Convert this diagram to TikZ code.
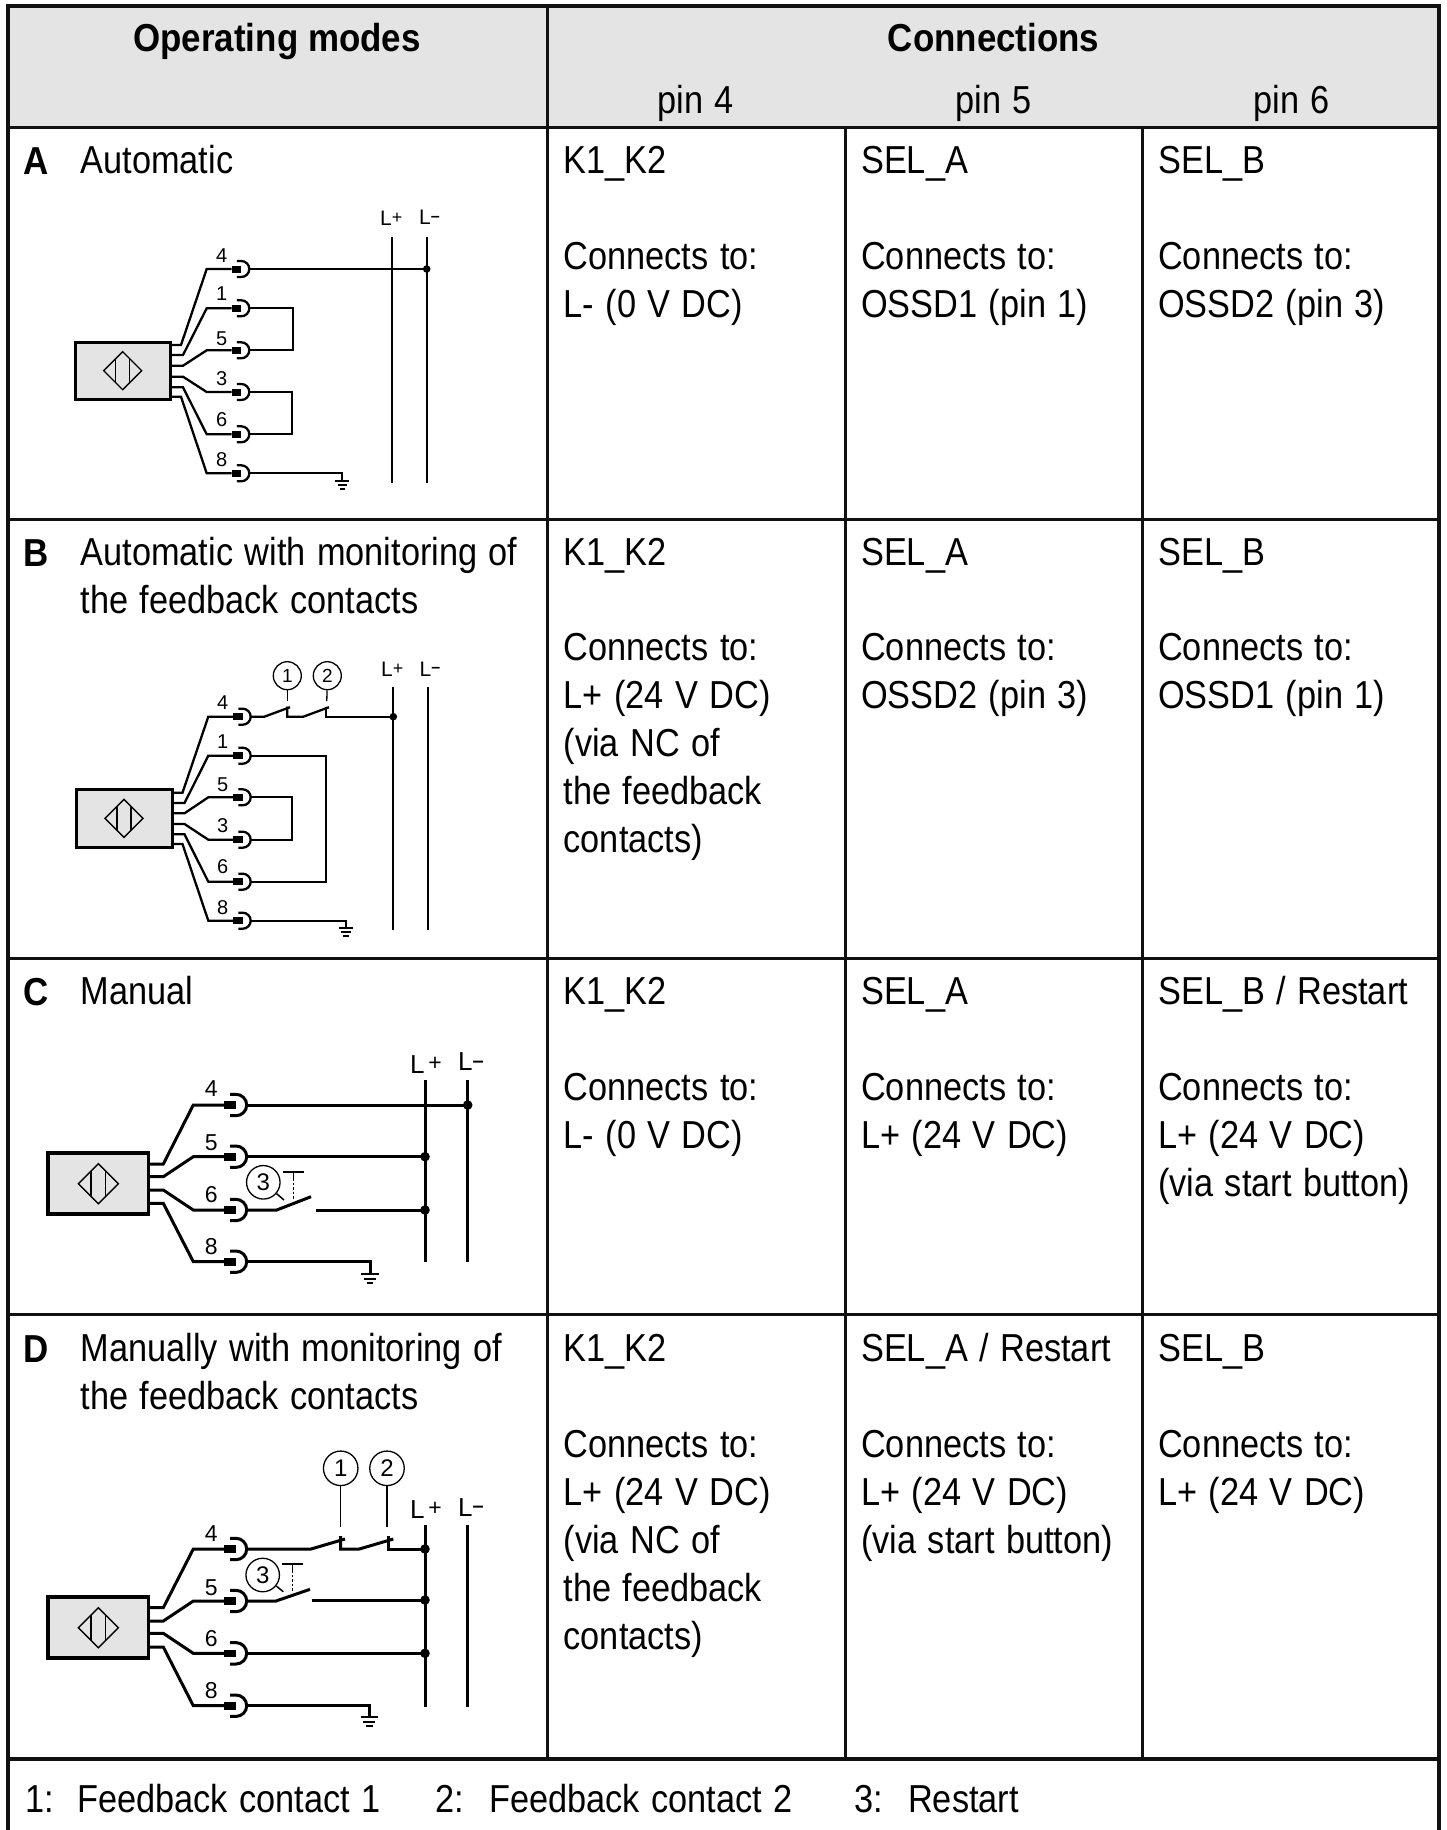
\documentclass[tikz,border=0pt]{standalone}
\usepackage{fontspec}
\setmainfont{Liberation Sans}
\newfontfamily\narrowf[FakeStretch=0.88]{Liberation Sans}
\newfontfamily\narrowb[FakeStretch=0.895]{Liberation Sans Bold}
\definecolor{headgray}{HTML}{E4E4E4}
\definecolor{linek}{HTML}{111111}
\newcommand\cellfont{\narrowf\fontsize{39}{48}\selectfont\spaceskip=11.4pt\relax}
\newcommand\boldfont{\narrowb\fontsize{39}{48}\selectfont}
\def\wlw{2.3pt}\def\sockL{0}\def\sockC{0}\def\sockR{8}\def\sockH{3.2}\def\bendX{0}\def\boxR{0}
% pin: name, stub y, pin y, stub end x
\newcommand\pinwire[4]{%
  \coordinate (#1s) at (\boxR,#2);
  \coordinate (#1t) at (#4,#2);
  \coordinate (#1b) at (\bendX,#3);
  \coordinate (#1i) at (\sockL,#3);
  \coordinate (#1o) at ({\sockC+\sockR},#3);
  \draw[line width=\wlw,miter limit=3] (#1s) -- (#1t) -- (#1b) -- (#1i);
  \fill (\sockL,{#3-\sockH}) rectangle (\sockC,{#3+\sockH});
  \draw[line width=\wlw] ({\sockC-0.55*\sockR},{#3-\sockR}) -- (\sockC,{#3-\sockR})
     .. controls ({\sockC+0.55*\sockR},{#3-\sockR}) and ({\sockC+\sockR},{#3-0.55*\sockR}) .. ({\sockC+\sockR},#3)
     .. controls ({\sockC+\sockR},{#3+0.55*\sockR}) and ({\sockC+0.55*\sockR},{#3+\sockR}) .. (\sockC,{#3+\sockR})
     -- ({\sockC-0.55*\sockR},{#3+\sockR});
}
% diamond symbol: cx cy half
\newcommand\sensormark[3]{%
  \draw[line width=1.4pt] ({#1-#3},#2) -- (#1,{#2-#3}) -- ({#1+#3},#2) -- (#1,{#2+#3}) -- cycle;
  \draw[line width=1.4pt] ({#1-0.37*#3},{#2-0.63*#3}) -- ({#1-0.37*#3},{#2+0.63*#3});
  \draw[line width=1.4pt] ({#1+0.37*#3},{#2-0.63*#3}) -- ({#1+0.37*#3},{#2+0.63*#3});
}
\newcommand\groundsym[5]{% x y0 y-step halfwidth lw
  \draw[line width=#5] ({#1-#4},#2) -- ({#1+#4},#2);
  \draw[line width=#5] ({#1-0.68*#4},{#2+#3}) -- ({#1+0.68*#4},{#2+#3});
  \draw[line width=#5] ({#1-0.38*#4},{#2+2*#3}) -- ({#1+0.38*#4},{#2+2*#3});
}
\tikzset{
  thickgrid/.style={line width=4pt,linek},
  thingrid/.style={line width=2.4pt,linek},
  celltext/.style={font=\cellfont,anchor=base west,inner sep=0pt,align=flush left,text width=#1,yshift=1pt},
  celltext/.default=280pt,
  headtext/.style={font=\boldfont,anchor=base,inner sep=0pt},
  pintext/.style={font=\cellfont,anchor=base,inner sep=0pt},
  sensorbox/.style={draw,fill=headgray,inner sep=0pt,outer sep=0pt,anchor=north west},
  dg/.style={inner sep=0pt,anchor=base,font=\fontsize{#1}{#1}\selectfont},
  railtext/.style={inner sep=0pt,anchor=base west,font=\fontsize{#1}{#1}\selectfont},
  ring/.style={draw,circle,inner sep=0pt,line width=1.3pt,font=\fontsize{#1}{#1}\selectfont},
}
\begin{document}
\begin{tikzpicture}[x=1pt,y=-1pt]
\useasboundingbox (0,0) rectangle (1447,1830);
\fill[white] (0,0) rectangle (1447,1830);
% ---------- table ----------
\fill[headgray] (8,6) rectangle (1439,127.5);
\draw[thingrid] (8,127.5) -- (1439,127.5);
\draw[thingrid] (8,519.5) -- (1439,519.5);
\draw[thingrid] (8,958.5) -- (1439,958.5);
\draw[thingrid] (8,1314.5) -- (1439,1314.5);
\draw[thingrid] (547.5,6) -- (547.5,1759);
\draw[thingrid] (845.5,127) -- (845.5,1759);
\draw[thingrid] (1142.5,127) -- (1142.5,1759);
\draw[thickgrid] (8,1759) -- (1439,1759);
\draw[thickgrid] (8,1830) -- (8,6) -- (1439,6) -- (1439,1830);
% header
\node[headtext] (hmodes) at (277,52) {Operating modes};
\node[headtext] (hconn) at (993.5,52) {Connections};
\node[pintext] (hp4) at (695.5,114) {pin 4};
\node[pintext] (hp5) at (993.5,114) {pin 5};
\node[pintext] (hp6) at (1291.5,114) {pin 6};
% row A
\node[headtext,anchor=base west] (la) at (23,175) {A};
\node[celltext=440pt] (ta) at (80.5,175) {Automatic};
\node[celltext] (a1) at (563.5,175) {K1\_K2};
\node[celltext] (a2) at (861,175) {SEL\_A};
\node[celltext] (a3) at (1158,175) {SEL\_B};
\node[celltext] (a1b) at (563.5,270.5) {Connects to:\\L- (0 V DC)};
\node[celltext] (a2b) at (861,270.5) {Connects to:\\OSSD1 (pin 1)};
\node[celltext] (a3b) at (1158,270.5) {Connects to:\\OSSD2 (pin 3)};
% row B
\node[headtext,anchor=base west] (lb) at (23,566) {B};
\node[celltext=460pt] (tb) at (80.5,566) {Automatic with monitoring of\\the feedback contacts};
\node[celltext] (b1) at (563.5,566) {K1\_K2};
\node[celltext] (b2) at (861,566) {SEL\_A};
\node[celltext] (b3) at (1158,566) {SEL\_B};
\node[celltext] (b1b) at (563.5,661.5) {Connects to:\\L+ (24 V DC)\\(via NC of\\the feedback\\contacts)};
\node[celltext] (b2b) at (861,661.5) {Connects to:\\OSSD2 (pin 3)};
\node[celltext] (b3b) at (1158,661.5) {Connects to:\\OSSD1 (pin 1)};
% row C
\node[headtext,anchor=base west] (lc) at (23,1005) {C};
\node[celltext=440pt] (tc) at (80.5,1005) {Manual};
\node[celltext] (c1) at (563.5,1005) {K1\_K2};
\node[celltext] (c2) at (861,1005) {SEL\_A};
\node[celltext] (c3) at (1158,1005) {SEL\_B / Restart};
\node[celltext] (c1b) at (563.5,1101.5) {Connects to:\\L- (0 V DC)};
\node[celltext] (c2b) at (861,1101.5) {Connects to:\\L+ (24 V DC)};
\node[celltext] (c3b) at (1158,1101.5) {Connects to:\\L+ (24 V DC)\\(via start button)};
% row D
\node[headtext,anchor=base west] (ld) at (23,1362) {D};
\node[celltext=460pt] (td) at (80.5,1362) {Manually with monitoring of\\the feedback contacts};
\node[celltext] (d1) at (563.5,1362) {K1\_K2};
\node[celltext] (d2) at (861,1362) {SEL\_A / Restart};
\node[celltext] (d3) at (1158,1362) {SEL\_B};
\node[celltext] (d1b) at (563.5,1458.5) {Connects to:\\L+ (24 V DC)\\(via NC of\\the feedback\\contacts)};
\node[celltext] (d2b) at (861,1458.5) {Connects to:\\L+ (24 V DC)\\(via start button)};
\node[celltext] (d3b) at (1158,1458.5) {Connects to:\\L+ (24 V DC)};
% footer
\node[celltext=50pt] (f1n) at (25.5,1813) {1:};
\node[celltext=340pt] (f1t) at (77,1813) {Feedback contact 1};
\node[celltext=50pt] (f2n) at (435,1813) {2:};
\node[celltext=340pt] (f2t) at (489,1813) {Feedback contact 2};
\node[celltext=50pt] (f3n) at (854,1813) {3:};
\node[celltext=200pt] (f3t) at (908,1813) {Restart};

% ---------- diagram A ----------
\node[sensorbox,line width=3pt,minimum width=94.7pt,minimum height=57.4pt] (abox) at (75.6,342) {};
\sensormark{122.7}{370.7}{19}
\def\wlw{2.3pt}\def\boxR{171}\def\bendX{206.7}\def\sockL{231.7}\def\sockC{241.3}\def\sockR{8}\def\sockH{3.5}
\pinwire{a4}{345}{269}{181}
\pinwire{a1}{355}{308.3}{183}
\pinwire{a5}{365.7}{350.3}{183}
\pinwire{a3}{376.7}{392}{183}
\pinwire{a6}{387.3}{434.3}{183}
\pinwire{a8}{396.7}{473.3}{181}
\foreach \nm/\bb in {4/262.7,1/300,5/345,3/385,6/426.7,8/466.7}{
  \node[dg=20] (adg\nm) at (221.7,\bb) {\nm};
}
\coordinate (alpt) at (392.3,237.3); \coordinate (alpb) at (392.3,483.3);
\coordinate (almt) at (426.7,237.3); \coordinate (almb) at (426.7,483.3);
\draw[line width=2.3pt] (alpt) -- (alpb);
\draw[line width=2.3pt] (almt) -- (almb);
\draw[line width=2.3pt] (a4o) -- (a4o -| almt);
\fill (a4o -| almt) circle (3.8pt);
\draw[line width=2.3pt] (a1o) -- (292.7,308.3) -- (292.7,350.3) -- (a5o);
\draw[line width=2.3pt] (a3o) -- (291.7,392) -- (291.7,434.3) -- (a6o);
\draw[line width=2.3pt] (a8o) -- (342.3,473.3) -- (342.3,481);
\groundsym{342.3}{481}{4}{7}{1.8pt}
\node[railtext=21] (alpl) at (380,225.7) {L\raisebox{2.5pt}{\fontsize{18}{18}\selectfont+}};
\node[railtext=21] (alml) at (419,225) {L\raisebox{3.5pt}{\bfseries\fontsize{16}{16}\selectfont –}};

% ---------- diagram B ----------
\node[sensorbox,line width=3pt,minimum width=95.7pt,minimum height=58pt] (bbox) at (76.3,789.6) {};
\sensormark{124}{818.3}{19}
\def\boxR{172.5}\def\bendX{208.3}\def\sockL{233}\def\sockC{242.7}
\pinwire{b4}{792.7}{716.7}{182.5}
\pinwire{b1}{803}{755.7}{184.5}
\pinwire{b5}{813.3}{797.3}{184.5}
\pinwire{b3}{824}{839.7}{184.5}
\pinwire{b6}{834.3}{881.7}{184.5}
\pinwire{b8}{844}{920.7}{182.5}
\foreach \nm/\bb in {4/709.3,1/748.3,5/791.7,3/832.3,6/873.3,8/914}{
  \node[dg=20] (bdg\nm) at (222.7,\bb) {\nm};
}
\coordinate (blpt) at (393.3,686.7); \coordinate (blpb) at (393.3,930);
\coordinate (blmt) at (427.7,686.7); \coordinate (blmb) at (427.7,930);
\draw[line width=2.3pt] (blpt) -- (blpb);
\draw[line width=2.3pt] (blmt) -- (blmb);
\draw[line width=2.3pt] (b4o) -- (264.3,716.7) -- (290,707.2);
\draw[line width=2.3pt] (287.3,706.5) -- (287.3,716.7) -- (303.3,716.7) -- (329,707.2);
\draw[line width=2.3pt] (326,706.5) -- (326,716.7) -- (b4o -| blpt);
\fill (b4o -| blpt) circle (3.8pt);
\draw[line width=2.3pt] (b5o) -- (292.3,797.3) -- (292.3,839.7) -- (b3o);
\draw[line width=2.3pt] (b1o) -- (326,755.7) -- (326,881.7) -- (b6o);
\draw[line width=2.3pt] (b8o) -- (346,920.7) -- (346,928.3);
\groundsym{346}{928.3}{3.9}{7}{1.8pt}
\node[ring=19,minimum size=28pt] (bc1) at (287.3,675.7) {1};
\node[ring=19,minimum size=28pt] (bc2) at (327.3,675.7) {2};
\coordinate (bc1e) at (287.3,701); \coordinate (bc2e) at (326.8,701);
\draw[line width=1.3pt] (bc1) -- (bc1e);
\draw[line width=1.3pt] (bc2) -- (bc2e);
\node[railtext=21] (blpl) at (381,676.7) {L\raisebox{2.5pt}{\fontsize{18}{18}\selectfont+}};
\node[railtext=21] (blml) at (419.5,676) {L\raisebox{3.5pt}{\bfseries\fontsize{16}{16}\selectfont –}};

% ---------- diagram C ----------
\node[sensorbox,line width=3.8pt,minimum width=100.8pt,minimum height=61pt] (cbox) at (47.6,1153.3) {};
\sensormark{98.3}{1183.7}{20}
\def\wlw{3pt}\def\boxR{150}\def\bendX{193.3}\def\sockL{224.3}\def\sockC{236}\def\sockR{10.7}\def\sockH{3.8}
\pinwire{c4}{1164}{1105}{163.3}
\pinwire{c5}{1176.7}{1156.7}{163.3}
\pinwire{c6}{1190}{1210}{163.3}
\pinwire{c8}{1203.3}{1261.7}{163.3}
\foreach \nm/\bb in {4/1096.7,5/1150,6/1202.7,8/1254.3}{
  \node[dg=23] (cdg\nm) at (211.3,\bb) {\nm};
}
\coordinate (clpt) at (425,1080); \coordinate (clpb) at (425,1261.7);
\coordinate (clmt) at (467.7,1080); \coordinate (clmb) at (467.7,1261.7);
\draw[line width=3pt] (clpt) -- (clpb);
\draw[line width=3pt] (clmt) -- (clmb);
\draw[line width=3pt] (c4o) -- (c4o -| clmt);
\fill (c4o -| clmt) circle (4.8pt);
\draw[line width=3pt] (c5o) -- (c5o -| clpt);
\fill (c5o -| clpt) circle (4.8pt);
\draw[line width=3pt] (c6o) -- (276.7,1210) -- (311,1196.7);
\coordinate (cgap) at (316,1210);
\draw[line width=3pt] (cgap) -- (cgap -| clpt);
\fill (cgap -| clpt) circle (4.8pt);
\node[ring=24,minimum size=33.5pt] (cc3) at (263.3,1182.3) {3};
\coordinate (cc3e) at (284,1200);
\draw[line width=1.5pt] (cc3) -- (cc3e);
\draw[line width=1.7pt] (283.3,1171.7) -- (304,1171.7);
\draw[line width=1.4pt] (293.3,1171.7) -- (293.3,1178);
\draw[line width=1.4pt,dash pattern=on 2.5pt off 2pt] (293.3,1178) -- (293.3,1199);
\draw[line width=3pt] (c8o) -- (370,1261.7) -- (370,1274);
\groundsym{370}{1274}{4.6}{8.7}{2.2pt}
\node[railtext=26] (clpl) at (410,1073.3) {L\raisebox{3pt}{\fontsize{23}{23}\selectfont\,+}};
\node[railtext=26] (clml) at (458,1070.7) {L\raisebox{3.5pt}{\bfseries\fontsize{20}{20}\selectfont –}};

% ---------- diagram D ----------
\node[sensorbox,line width=3.8pt,minimum width=100.8pt,minimum height=61pt] (dbox) at (47.6,1596.6) {};
\sensormark{98.3}{1627.7}{20}
\pinwire{d4}{1607.7}{1549}{163.3}
\pinwire{d5}{1621}{1601}{163.3}
\pinwire{d6}{1633.3}{1653.3}{163.3}
\pinwire{d8}{1647}{1705.7}{163.3}
\foreach \nm/\bb in {4/1541,5/1595,6/1646.7,8/1698.3}{
  \node[dg=23] (ddg\nm) at (211.3,\bb) {\nm};
}
\coordinate (dlpt) at (425,1525); \coordinate (dlpb) at (425,1706.7);
\coordinate (dlmt) at (467.7,1525); \coordinate (dlmb) at (467.7,1706.7);
\draw[line width=3pt] (dlpt) -- (dlpb);
\draw[line width=3pt] (dlmt) -- (dlmb);
\draw[line width=3pt] (d4o) -- (311,1549) -- (345,1539);
\draw[line width=3pt] (340.7,1536) -- (340.7,1549) -- (359.3,1549) -- (393.3,1539);
\draw[line width=3pt] (388.3,1536) -- (388.3,1549) -- (d4o -| dlpt);
\fill (d4o -| dlpt) circle (4.8pt);
\draw[line width=3pt] (d5o) -- (276,1601) -- (310,1589.3);
\coordinate (dgap) at (311.7,1600);
\draw[line width=3pt] (dgap) -- (dgap -| dlpt);
\fill (dgap -| dlpt) circle (4.8pt);
\draw[line width=3pt] (d6o) -- (d6o -| dlpt);
\fill (d6o -| dlpt) circle (4.8pt);
\node[ring=24,minimum size=34.5pt] (dc1) at (340.7,1468.3) {1};
\node[ring=24,minimum size=34.5pt] (dc2) at (387,1468.3) {2};
\coordinate (dc1e) at (340.7,1526.7); \coordinate (dc2e) at (387,1526.7);
\draw[line width=1.5pt] (dc1) -- (dc1e);
\draw[line width=1.5pt] (dc2) -- (dc2e);
\node[ring=24,minimum size=33.5pt] (dc3) at (262.7,1575) {3};
\coordinate (dc3e) at (283.3,1591.7);
\draw[line width=1.5pt] (dc3) -- (dc3e);
\draw[line width=1.7pt] (282.3,1564) -- (303.3,1564);
\draw[line width=1.4pt] (292.7,1564) -- (292.7,1570);
\draw[line width=1.4pt,dash pattern=on 2.5pt off 2pt] (292.7,1570) -- (292.7,1591.7);
\draw[line width=3pt] (d8o) -- (369.3,1705.7) -- (369.3,1717.3);
\groundsym{369.3}{1717.3}{4.4}{8.7}{2.2pt}
\node[railtext=26] (dlpl) at (410,1518.3) {L\raisebox{3pt}{\fontsize{23}{23}\selectfont\,+}};
\node[railtext=26] (dlml) at (458,1516) {L\raisebox{3.5pt}{\bfseries\fontsize{20}{20}\selectfont –}};
\end{tikzpicture}
\end{document}
